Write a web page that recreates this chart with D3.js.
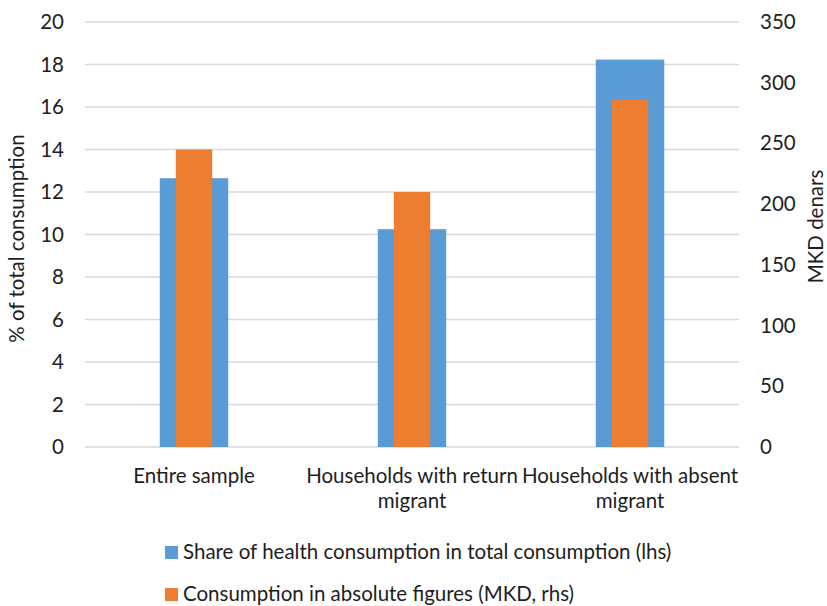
<!DOCTYPE html>
<html><head><meta charset="utf-8">
<script src="https://cdn.jsdelivr.net/npm/d3@7"></script>
<style>
html,body{margin:0;padding:0;background:#fff;}
text{font-family:Lato,"Open Sans",sans-serif;fill:#1e1e1e;}
</style></head>
<body>
<svg id="chart" width="827" height="606"></svg>
<script>
const categories = ["Entire sample", "Households with return migrant", "Households with absent migrant"];
const categoryLines = [["Entire sample"], ["Households with return", "migrant"], ["Households with absent", "migrant"]];
const shareValues = [12.65, 10.25, 18.23];
const mkdValues = [245, 210, 286];
const leftTicks = [0, 2, 4, 6, 8, 10, 12, 14, 16, 18, 20];
const rightTicks = [0, 50, 100, 150, 200, 250, 300, 350];
const seriesNames = ["Share of health consumption in total consumption (lhs)", "Consumption in absolute figures (MKD, rhs)"];
const colors = ["#5B9BD5", "#ED7D31"];

const svg = d3.select("#chart");
const fs = 20.5;
const x0 = 85, x1 = 739, yTop = 22, yBot = 447;

const x = d3.scaleBand().domain(categories).range([x0, x1]).padding(0);
const yL = d3.scaleLinear().domain([0, 20]).range([yBot, yTop]);
const yR = d3.scaleLinear().domain([0, 350]).range([yBot, yTop]);

// gridlines
svg.append("g").selectAll("line").data(leftTicks).join("line")
  .attr("x1", x0).attr("x2", x1)
  .attr("y1", d => yL(d)).attr("y2", d => yL(d))
  .attr("stroke", "#d9d9d9").attr("stroke-width", 1.3);

const bw = x.bandwidth();
const blueW = bw * 0.314, orangeW = bw * 0.167;

svg.append("g").selectAll("rect").data(shareValues).join("rect")
  .attr("x", (d, i) => x(categories[i]) + bw / 2 - blueW / 2)
  .attr("width", blueW)
  .attr("y", d => yL(d))
  .attr("height", d => yBot - yL(d))
  .attr("fill", colors[0]);

svg.append("g").selectAll("rect").data(mkdValues).join("rect")
  .attr("x", (d, i) => x(categories[i]) + bw / 2 - orangeW / 2)
  .attr("width", orangeW)
  .attr("y", d => yR(d))
  .attr("height", d => yBot - yR(d))
  .attr("fill", colors[1]);

// left axis
const gl = svg.append("g").attr("transform", `translate(${x0},0)`)
  .call(d3.axisLeft(yL).tickValues(leftTicks).tickSize(0).tickPadding(21));
gl.select(".domain").remove();
gl.selectAll("text").style("font-size", fs + "px").style("font-family", "Lato").attr("fill", "#1e1e1e");

// right axis
const gr = svg.append("g").attr("transform", `translate(${x1},0)`)
  .call(d3.axisRight(yR).tickValues(rightTicks).tickSize(0).tickPadding(21));
gr.select(".domain").remove();
gr.selectAll("text").style("font-size", fs + "px").style("font-family", "Lato").attr("fill", "#1e1e1e");

// category labels
const cl = svg.append("g");
categories.forEach((c, i) => {
  const t = cl.append("text").attr("text-anchor", "middle")
    .attr("x", x(c) + bw / 2).attr("y", 483).style("font-size", fs + "px");
  categoryLines[i].forEach((ln, j) => {
    t.append("tspan").attr("x", x(c) + bw / 2).attr("y", 483 + j * 25).text(ln);
  });
});

// axis titles
svg.append("text").attr("text-anchor", "middle")
  .attr("transform", `translate(24,${(yTop + yBot) / 2 + 4}) rotate(-90)`)
  .style("font-size", fs + "px").text("% of total consumption");
svg.append("text").attr("text-anchor", "middle")
  .attr("transform", `translate(823,${(yTop + yBot) / 2 - 8}) rotate(-90)`)
  .style("font-size", fs + "px").text("MKD denars");

// legend
const lg = svg.append("g");
seriesNames.forEach((s, i) => {
  const yy = 546 + i * 42;
  lg.append("rect").attr("x", 165).attr("y", yy).attr("width", 13).attr("height", 13).attr("fill", colors[i]);
  lg.append("text").attr("x", 183).attr("y", yy + 13).style("font-size", fs + "px").text(s);
});
</script>
</body></html>
